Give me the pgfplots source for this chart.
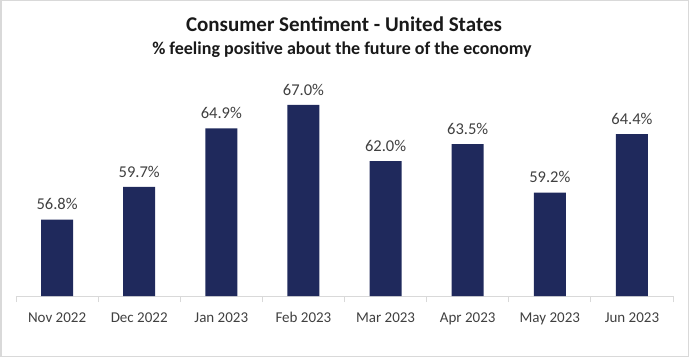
\documentclass[border=0pt]{standalone}
\usepackage{pgfplots}
\pgfplotsset{compat=1.18}
\usepackage{fontspec}
\setmainfont{Carlito}
\definecolor{barblue}{HTML}{1F295C}
\definecolor{labgray}{HTML}{404040}
\definecolor{framegray}{HTML}{D9D9D9}
\begin{document}
\begin{tikzpicture}[x=1pt,y=1pt]
\useasboundingbox (0,0) rectangle (689,357);
\draw[framegray, line width=1.5pt] (0.75,0.75) rectangle (688.25,356.25);
\node[anchor=base, font=\fontsize{21}{25}\selectfont\bfseries, text=black!90] at (344,325) {Consumer Sentiment - United States};
\node[anchor=base, font=\fontsize{18}{21}\selectfont\bfseries, text=black!90] at (342,302) {\% feeling positive about the future of the economy};
\begin{axis}[
  at={(16pt,61pt)}, anchor=south west,
  scale only axis,
  width=657pt, height=225pt,
  ybar, bar width=32pt,
  xmin=-0.5, xmax=7.5,
  ymin=50, ymax=70,
  axis y line=none,
  axis x line*=bottom,
  x axis line style={-, draw=framegray, line width=0.8pt},
  xtick={0,...,7},
  xticklabels={Nov 2022,Dec 2022,Jan 2023,Feb 2023,Mar 2023,Apr 2023,May 2023,Jun 2023},
  minor xtick={-0.5,0.5,...,7.5},
  major tick length=0pt,
  minor tick length=6pt,
  tick align=outside,
  minor tick style={draw=framegray, line width=0.8pt},
  xticklabel style={font=\fontsize{15}{18}\selectfont, text=labgray, yshift=-13pt},
  /pgf/number format/assume math mode=true,
  nodes near coords={\pgfmathprintnumber[fixed,precision=1,fixed zerofill]{\pgfplotspointmeta}\%},
  nodes near coords style={font=\fontsize{16.5}{19}\selectfont, text=labgray, anchor=south, yshift=6pt},
]
\addplot[fill=barblue, draw=none] coordinates {
  (0,56.8) (1,59.7) (2,64.9) (3,67.0) (4,62.0) (5,63.5) (6,59.2) (7,64.4)
};
\end{axis}
\end{tikzpicture}
\end{document}
